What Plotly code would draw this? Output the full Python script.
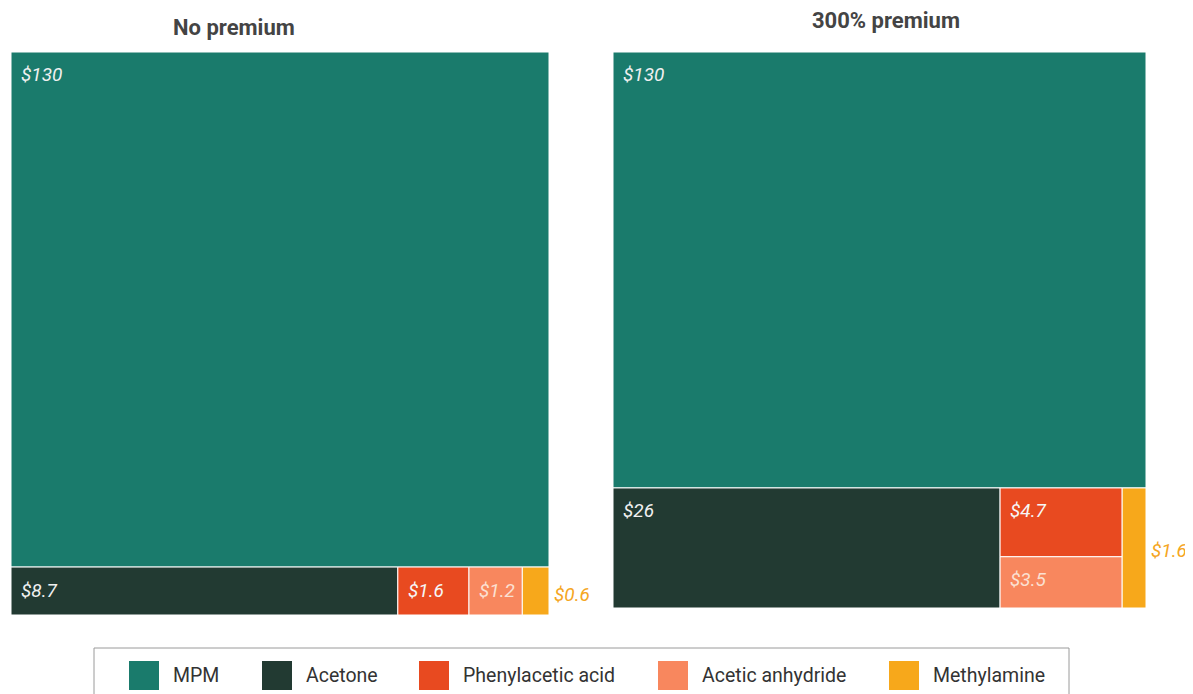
import plotly.graph_objects as go

# ---------------- data ----------------
chemicals = ["MPM", "Acetone", "Phenylacetic acid", "Acetic anhydride", "Methylamine"]
no_premium = [130, 8.7, 1.6, 1.2, 0.6]
premium_300 = [130, 26, 4.7, 3.5, 1.6]
panel_titles = ["No premium", "300% premium"]

# ---------------- style ----------------
colors = ["#1A7B6C", "#223A32", "#E84A20", "#F8875E", "#F7A81B"]
label_colors = ["#F0F0F0", "#F0F0F0", "#F6F6F6", "#FBE0D2", "#F5A623"]
OFF = 8                      # page body margin
W, H = 1193 - OFF, 694 - OFF  # figure size

# bottom-row grouping (indices into chemicals) for each panel
groups_left = [[1], [2], [3], [4]]
groups_right = [[1], [2, 3], [4]]
outside_label = {4}


def px(x):
    return (x - OFF) / W


def py(y):
    return 1 - (y - OFF) / H


def layout_cells(values, groups):
    """Top cell = first value; the rest in a bottom row of groups, each group stacked."""
    total = sum(values)
    rest = sum(values[1:])
    h_top = values[0] / total
    rects = {0: (0.0, 1.0, 1 - h_top, 1.0)}
    xcur = 0.0
    for g in groups:
        gsum = sum(values[i] for i in g)
        w = gsum / rest
        ytop = 1 - h_top
        for i in g:
            h = (1 - h_top) * values[i] / gsum
            rects[i] = (xcur, xcur + w, ytop - h, ytop)
            ytop -= h
        xcur += w
    return rects


fig = go.Figure()

panels = [
    (no_premium, groups_left, "x", "y", [px(11), px(549)], [py(615), py(52)]),
    (premium_300, groups_right, "x2", "y2", [px(613), px(1146)], [py(608), py(52)]),
]

annotations = []
for pi, (vals, groups, xa, ya, xdom, ydom) in enumerate(panels):
    rects = layout_cells(vals, groups)
    for i in range(len(chemicals)):
        x0, x1, y0, y1 = rects[i]
        fig.add_trace(go.Scatter(
            x=[x0, x1, x1, x0, x0], y=[y0, y0, y1, y1, y0],
            fill="toself", fillcolor=colors[i], mode="lines",
            line=dict(color="white", width=1),
            xaxis=xa, yaxis=ya, showlegend=False, hoverinfo="text",
            hoveron="fills", text=f"{chemicals[i]}: ${vals[i]:g}",
        ))
        label = f"${vals[i]:g}"
        if i in outside_label:
            annotations.append(dict(
                x=x1, y=(y0 + y1) / 2, xref=xa, yref=ya, text=f"<i>{label}</i>",
                showarrow=False, xanchor="left", yanchor="middle", xshift=3, yshift=-3,
                font=dict(family="Roboto", size=19, color=label_colors[i]),
            ))
        else:
            annotations.append(dict(
                x=x0, y=y1, xref=xa, yref=ya, text=f"<i>{label}</i>",
                showarrow=False, xanchor="left", yanchor="middle", xshift=8, yshift=-23,
                font=dict(family="Roboto", size=19, color=label_colors[i]),
            ))

# titles
annotations.append(dict(x=px(234), y=py(28), xref="paper", yref="paper",
                        text=f"<b>{panel_titles[0]}</b>", showarrow=False,
                        xanchor="center", yanchor="middle",
                        font=dict(family="Roboto", size=22, color="#444444")))
annotations.append(dict(x=px(886), y=py(20), xref="paper", yref="paper",
                        text=f"<b>{panel_titles[1]}</b>", showarrow=False,
                        xanchor="center", yanchor="middle",
                        font=dict(family="Roboto", size=22, color="#444444")))

# manual legend
shapes = [dict(type="rect", xref="paper", yref="paper",
               x0=px(94), x1=px(1069), y0=py(720), y1=py(648),
               line=dict(color="#9A9A9A", width=1), fillcolor="white", layer="below")]
legend_square_px = [129, 262, 419, 658, 889]
for i, name in enumerate(chemicals):
    sx = legend_square_px[i]
    shapes.append(dict(type="rect", xref="paper", yref="paper",
                       x0=px(sx), x1=px(sx + 30), y0=py(690), y1=py(661),
                       line=dict(width=0), fillcolor=colors[i]))
    annotations.append(dict(x=px(sx + 42), y=py(675), xref="paper", yref="paper",
                            text=name, showarrow=False, xanchor="left", yanchor="middle",
                            font=dict(family="Roboto", size=19.5, color="#333333")))

axis_common = dict(range=[0, 1], showgrid=False, zeroline=False, showticklabels=False,
                   showline=False, ticks="", fixedrange=True)

fig.update_layout(
    width=W, height=H,
    margin=dict(l=0, r=0, t=0, b=0),
    paper_bgcolor="white", plot_bgcolor="white",
    xaxis=dict(domain=panels[0][4], **axis_common),
    yaxis=dict(domain=panels[0][5], **axis_common),
    xaxis2=dict(domain=panels[1][4], anchor="y2", **axis_common),
    yaxis2=dict(domain=panels[1][5], anchor="x2", **axis_common),
    annotations=annotations,
    shapes=shapes,
    showlegend=False,
)

fig.write_html("out.html")
